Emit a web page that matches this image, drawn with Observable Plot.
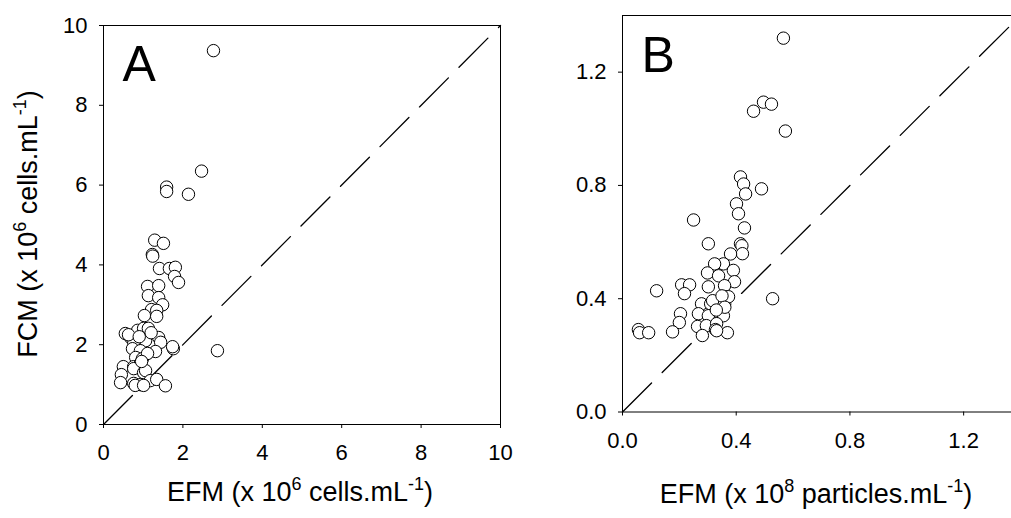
<!DOCTYPE html>
<html><head><meta charset="utf-8">
<script src="https://cdn.jsdelivr.net/npm/d3@7"></script>
<script src="https://cdn.jsdelivr.net/npm/@observablehq/plot@0.6"></script>
<style>
html,body{margin:0;padding:0;background:#fff;overflow:hidden;width:1011px;height:518px;}
#wrap{position:relative;width:1011px;height:518px;overflow:hidden;}
.panel{position:absolute;top:0;}
</style></head><body><div id="wrap"></div>
<script>
// Panel A: EFM vs FCM (x 10^6 cells/mL)
const efmA = [2.77,2.47,1.59,1.59,2.14,1.29,1.51,1.23,1.24,1.41,1.66,1.81,1.79,1.89,
  1.11,1.39,1.13,1.39,1.49,1.21,1.34,1.03,1.34,
  0.55,0.68,0.86,1.01,1.13,1.06,1.39,1.44,0.76,0.73,0.93,1.31,1.76,1.74,
  2.87,0.81,0.98,1.11,0.50,0.76,0.93,0.76,1.01,1.06,
  0.45,0.43,0.76,0.93,1.18,1.34,1.56,0.63,0.90,1.20,0.96,0.80,1.01];
const fcmA = [9.37,6.35,5.95,5.84,5.77,4.62,4.54,4.26,4.22,3.91,3.91,3.94,3.71,3.56,
  3.46,3.48,3.23,3.18,3.00,2.88,2.86,2.73,2.71,
  2.28,2.18,2.36,2.41,2.41,2.10,2.18,2.06,2.03,1.90,1.85,1.83,1.90,1.95,
  1.85,1.68,1.65,1.78,1.45,1.45,1.53,1.40,1.30,1.35,
  1.25,1.05,1.03,1.00,1.10,1.13,0.97,2.25,2.20,2.30,1.58,0.98,0.98];
// Panel B: EFM vs FCM (x 10^8 particles/mL)
const efmB = [0.566,0.496,0.524,0.461,0.573,0.415,0.426,0.489,0.433,0.401,0.408,0.250,0.429,
  0.302,0.415,0.420,0.422,0.380,0.355,0.324,0.299,0.390,0.338,0.394,
  0.302,0.359,0.120,0.208,0.236,0.218,0.362,0.373,0.528,
  0.278,0.310,0.317,0.355,0.267,0.302,0.204,0.200,0.264,0.295,0.331,0.327,
  0.056,0.060,0.092,0.176,0.281,0.369,0.331,0.350,0.360,0.330];
const fcmB = [1.320,1.094,1.087,1.062,0.992,0.830,0.805,0.788,0.770,0.735,0.700,0.678,0.650,
  0.594,0.594,0.587,0.559,0.558,0.523,0.523,0.491,0.500,0.481,0.460,
  0.442,0.446,0.428,0.449,0.449,0.418,0.407,0.407,0.400,
  0.382,0.382,0.393,0.340,0.347,0.340,0.347,0.316,0.302,0.305,0.312,0.291,
  0.291,0.280,0.280,0.283,0.270,0.280,0.287,0.410,0.370,0.360];
const ticksA = [0,2,4,6,8,10];
const ticksB = [0,0.4,0.8,1.2];
const domainA = [0,10];
const domainB = [0,1.4];
const diagA = [0,10];
const diagB = [0,1.4];

const font = "'Liberation Sans', Arial, sans-serif";
const wrap = document.getElementById("wrap");

function panel(efm, fcm, ticks, domain, diag, letter, fmt, opts) {
  const pts = efm.map((x,i)=>({x, y: fcm[i]}));
  const line = diag.map(v=>({x:v, y:v}));
  return Plot.plot({
    width: opts.width, height: 518,
    marginLeft: opts.ml, marginRight: opts.mr, marginTop: opts.mt, marginBottom: opts.mb,
    style: {fontFamily: font, fontSize: "22px", color: "black", background: "transparent", overflow: "visible"},
    x: {domain, label: null},
    y: {domain, label: null},
    marks: [
      Plot.line(line, {x:"x", y:"y", stroke:"black", strokeWidth:1.3, strokeDasharray:"41,15"}),
      Plot.dot(pts, {x:"x", y:"y", r:6.2, fill:"white", stroke:"black", strokeWidth:1}),
      Plot.frame({stroke:"black", strokeWidth:1}),
      Plot.axisX({ticks, tickSize:4, tickPadding:16, tickFormat: fmt, fontSize: 22, label: null}),
      Plot.axisY({ticks, tickSize:4, tickPadding:12, tickFormat: fmt, fontSize: 22, label: null}),
      Plot.text([letter], {frameAnchor:"top-left", dx: opts.ldx, dy: opts.ldy, fontSize: 50, textAnchor:"start", lineAnchor:"top", fill:"black"})
    ]
  });
}

const pA = panel(efmA, fcmA, ticksA, domainA, diagA, "A", d=>String(d),
  {width:520, ml:103, mr:20, mt:25, mb:94, ldx:19, ldy:20});
pA.classList.add("panel"); pA.style.left = "0px";
wrap.appendChild(pA);

const pB = panel(efmB, fcmB, ticksB, domainB, diagB, "B", d=>d.toFixed(1),
  {width:500, ml:82, mr:20, mt:15, mb:106.5, ldx:19, ldy:21});
pB.classList.add("panel"); pB.style.left = "540px";
wrap.appendChild(pB);

// axis titles with superscripts
function title(svg, x, y, rot, parts) {
  const t = d3.select(svg).append("text")
    .attr("transform", `translate(${x},${y}) rotate(${rot})`)
    .attr("text-anchor", "middle")
    .attr("font-family", font).attr("font-size", 27).attr("fill", "black");
  let shift = 0;
  parts.forEach(([s, sup]) => {
    const ts = t.append("tspan").text(s);
    if (sup) { ts.attr("dy", -11).attr("font-size", 18); shift = 11; }
    else if (shift) { ts.attr("dy", shift); shift = 0; }
  });
}
title(pA, 300, 501, 0, [["EFM (x 10"],["6",1],[" cells.mL"],["-1",1],[")"]]);
title(pA, 37, 224, -90, [["FCM (x 10"],["6",1],[" cells.mL"],["-1",1],[")"]]);
title(pB, 276, 503, 0, [["EFM (x 10"],["8",1],[" particles.mL"],["-1",1],[")"]]);
</script></body></html>
